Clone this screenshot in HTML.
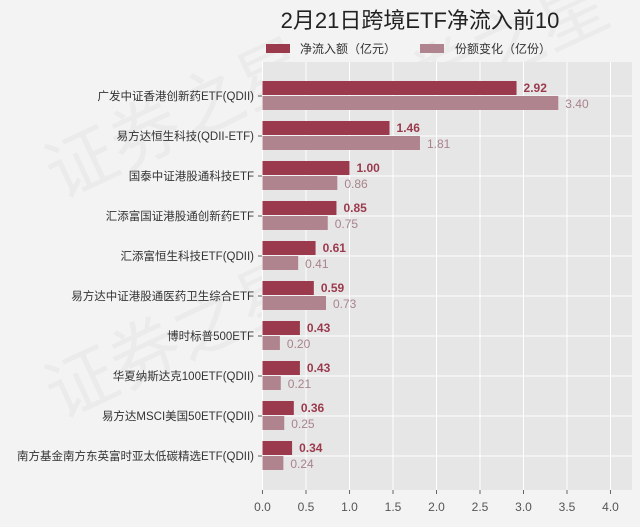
<!DOCTYPE html>
<html><head><meta charset="utf-8"><style>
body{margin:0;background:#f3f3f3;font-family:"Liberation Sans","Noto Sans CJK SC",sans-serif;}
svg text{font-family:"Liberation Sans","Noto Sans CJK SC",sans-serif;}
</style></head><body>
<svg id="c" width="640" height="522"></svg>
<script>
const categories=["广发中证香港创新药ETF(QDII)","易方达恒生科技(QDII-ETF)","国泰中证港股通科技ETF","汇添富国证港股通创新药ETF","汇添富恒生科技ETF(QDII)","易方达中证港股通医药卫生综合ETF","博时标普500ETF","华夏纳斯达克100ETF(QDII)","易方达MSCI美国50ETF(QDII)","南方基金南方东英富时亚太低碳精选ETF(QDII)"];
const netInflow=[2.92,1.46,1.00,0.85,0.61,0.59,0.43,0.43,0.36,0.34];
const shareChange=[3.40,1.81,0.86,0.75,0.41,0.73,0.20,0.21,0.25,0.24];
const xTicks=[0,0.5,1,1.5,2,2.5,3,3.5,4];
const xTickLabels=["0.0","0.5","1.0","1.5","2.0","2.5","3.0","3.5","4.0"];
const NS="http://www.w3.org/2000/svg";
const svg=document.getElementById('c');
const X0=262.5,K=87,PL=262,PR=632,PT=62,PB=490;
const x=v=>X0+v*K;
const y=i=>96+i*40;
function el(t,a,p){const e=document.createElementNS(NS,t);for(const k in a)e.setAttribute(k,a[k]);(p||svg).appendChild(e);return e;}
const wm=el('g',{opacity:0.035});


[[60,200],[360,140],[60,420],[360,440]].forEach(p=>{const t=el('text',{x:p[0],y:p[1],'font-size':70,transform:`rotate(-25 ${p[0]} ${p[1]})`,fill:'#000'},wm);t.textContent='证券之星';});
const title=el('text',{x:420,y:28,'text-anchor':'middle','font-size':22,fill:'#222'});
title.textContent='2月21日跨境ETF净流入前10';


const lg1=el('g',{});


el('rect',{x:266,y:44,width:24,height:9,fill:'#9b3a4d'},lg1);
let t=el('text',{x:300,y:53,'font-size':12,fill:'#333'},lg1);t.textContent='净流入额（亿元）';
const lg2=el('g',{});


el('rect',{x:420,y:44,width:24,height:9,fill:'#b0848f'},lg2);
t=el('text',{x:455,y:53,'font-size':12,fill:'#333'},lg2);t.textContent='份额变化（亿份）';
const bg=el('rect',{x:PL,y:PT,width:PR-PL,height:PB-PT,fill:'#e6e6e6'});


xTicks.forEach((v,i)=>{
 const g=el('line',{x1:x(v),x2:x(v),y1:PT,y2:PB,stroke:'#fff','stroke-width':1});
 
 
 el('line',{x1:x(v),x2:x(v),y1:PB,y2:PB+4,stroke:'#666'});
 const tl=el('text',{x:x(v),y:511,'text-anchor':'middle','font-size':12,fill:'#555'});
 tl.textContent=xTickLabels[i];
 
 
});
categories.forEach((c,i)=>{
 const cy=y(i);
 el('line',{x1:PL,x2:PR,y1:cy,y2:cy,stroke:'#fff','stroke-width':1});
 el('line',{x1:PL-4,x2:PL,y1:cy,y2:cy,stroke:'#666'});
 const cl=el('text',{x:PL-8,y:cy+4,'text-anchor':'end','font-size':11.5,fill:'#333'});
 cl.textContent=c;
 
 
 const b1=el('rect',{x:x(0),y:cy-15,width:x(netInflow[i])-x(0),height:14,fill:'#9b3a4d'});
 
 
 const v1=el('text',{x:x(netInflow[i])+7,y:cy-4,'font-size':12,'font-weight':'bold',fill:'#9b3a4d'});
 v1.textContent=netInflow[i].toFixed(2);
 
 
 const b2=el('rect',{x:x(0),y:cy,width:x(shareChange[i])-x(0),height:14,fill:'#b0848f'});
 
 
 const v2=el('text',{x:x(shareChange[i])+7,y:cy+12,'font-size':12,fill:'#a9838c'});
 v2.textContent=shareChange[i].toFixed(2);
 
 
});
</script>
</body></html>
